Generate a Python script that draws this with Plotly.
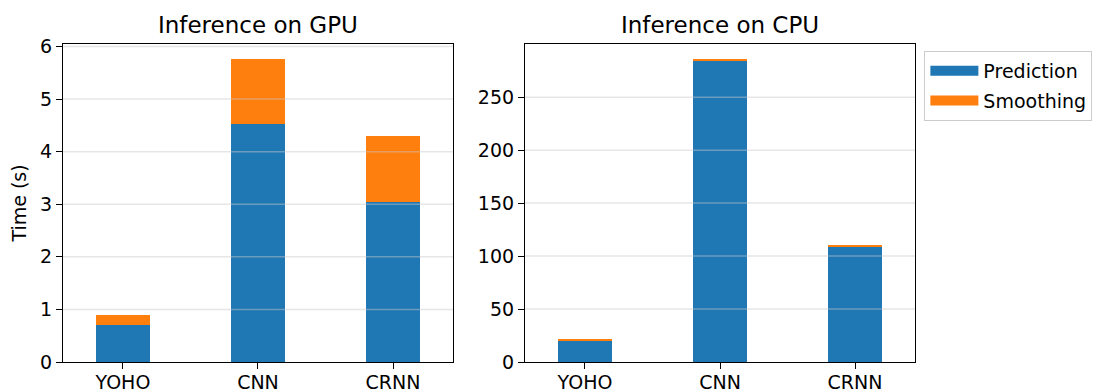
import plotly.graph_objects as go
from plotly.subplots import make_subplots

models = ["YOHO", "CNN", "CRNN"]
gpu_prediction = [0.70, 4.53, 3.05]
gpu_smoothing = [0.19, 1.23, 1.24]
cpu_prediction = [20.5, 284.0, 108.6]
cpu_smoothing = [0.8, 1.9, 1.6]
gpu_ticks = [0, 1, 2, 3, 4, 5, 6]
cpu_ticks = [0, 50, 100, 150, 200, 250]

BLUE = "#1f77b4"
ORANGE = "#ff7f0e"
FONT = "DejaVu Sans"
FS = 19

fig = make_subplots(rows=1, cols=2, horizontal_spacing=0.0846,
                    subplot_titles=("Inference on GPU", "Inference on CPU"))

xs = list(range(len(models)))
for col, (pred, smooth) in enumerate([(gpu_prediction, gpu_smoothing),
                                      (cpu_prediction, cpu_smoothing)], start=1):
    fig.add_trace(go.Bar(x=xs, y=pred, name="Prediction", marker_color=BLUE,
                         marker_line_width=0, width=0.4, showlegend=False),
                  row=1, col=col)
    fig.add_trace(go.Bar(x=xs, y=smooth, name="Smoothing", marker_color=ORANGE,
                         marker_line_width=0, width=0.4, showlegend=False),
                  row=1, col=col)

# legend entries drawn as wide rectangles (thick line samples)
for name, color in [("Prediction", BLUE), ("Smoothing", ORANGE)]:
    fig.add_trace(go.Scatter(x=[None], y=[None], mode="lines", name=name,
                             legendgroup=name,
                             line=dict(color=color, width=14), showlegend=True),
                  row=1, col=2)

gpu_max = max(p + s for p, s in zip(gpu_prediction, gpu_smoothing)) * 1.05
cpu_max = max(p + s for p, s in zip(cpu_prediction, cpu_smoothing)) * 1.05

axis_common = dict(showline=True, linecolor="black", linewidth=1.3, mirror=True,
                   ticks="outside", ticklen=6, tickcolor="black", tickwidth=1.3,
                   tickfont=dict(family=FONT, size=FS, color="black"),
                   showgrid=False, zeroline=False, automargin=False)

for col in (1, 2):
    fig.update_xaxes(tickvals=xs, ticktext=models, range=[-0.444, 2.444],
                     ticklabelstandoff=-3, row=1, col=col, **axis_common)
fig.update_yaxes(range=[0, gpu_max], tickvals=gpu_ticks, row=1, col=1,
                 title_text="Time (s)",
                 title_font=dict(family=FONT, size=FS, color="black"),
                 title_standoff=12, **axis_common)
fig.update_yaxes(range=[0, cpu_max], tickvals=cpu_ticks, row=1, col=2, **axis_common)

# grid lines drawn over the bars
for t in gpu_ticks[1:]:
    fig.add_shape(type="line", xref="x domain", yref="y", x0=0, x1=1, y0=t, y1=t,
                  line=dict(color="rgba(200,200,200,0.45)", width=1.5), layer="above")
for t in cpu_ticks[1:]:
    fig.add_shape(type="line", xref="x2 domain", yref="y2", x0=0, x1=1, y0=t, y1=t,
                  line=dict(color="rgba(200,200,200,0.45)", width=1.5), layer="above")

for ann in fig.layout.annotations:
    ann.font = dict(family=FONT, size=23, color="black")
    ann.yshift = 4

fig.update_layout(
    barmode="stack",
    width=1097, height=384,
    margin=dict(l=55, r=190, t=36, b=30, autoexpand=False),
    paper_bgcolor="white", plot_bgcolor="white",
    font=dict(family=FONT, size=FS, color="black"),
    legend=dict(x=1.011, y=0.978, xanchor="left", yanchor="top",
                bordercolor="#cccccc", borderwidth=1,
                font=dict(family=FONT, size=FS, color="black"),
                traceorder="grouped", tracegroupgap=2, itemwidth=48),
    bargap=0,
)

fig.write_html("out.html")
